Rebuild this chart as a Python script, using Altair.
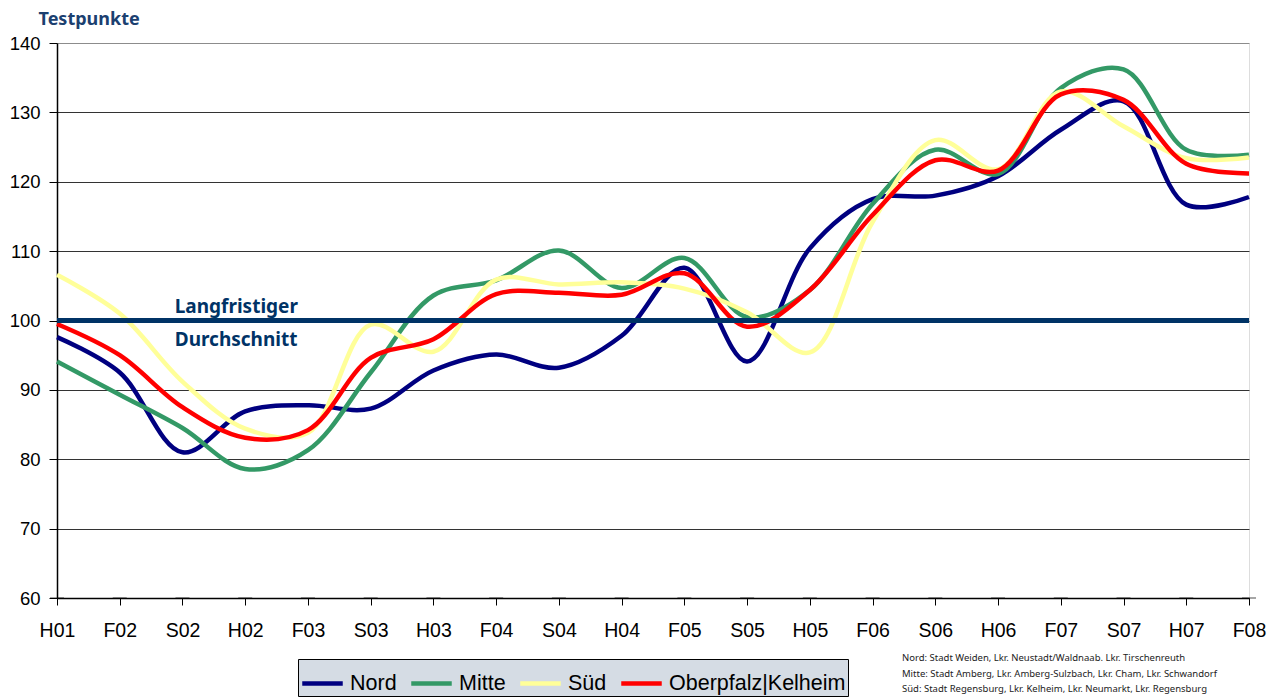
import altair as alt
import pandas as pd

cats = ["H01", "F02", "S02", "H02", "F03", "S03", "H03", "F04", "S04", "H04",
        "F05", "S05", "H05", "F06", "S06", "H06", "F07", "S07", "H07", "F08"]
nord = [97.6, 92.5, 81.0, 86.9, 87.8, 87.3, 92.8, 95.1, 93.2, 97.8,
        107.6, 94.1, 110.4, 117.5, 118.0, 120.8, 127.5, 131.6, 116.7, 117.8]
mitte = [94.1, 89.3, 84.5, 78.6, 81.3, 92.5, 103.6, 105.8, 110.1, 104.7,
         109.0, 100.5, 104.4, 116.8, 124.6, 121.1, 133.5, 136.2, 124.6, 123.9]
sued = [106.6, 101.0, 91.2, 84.4, 83.8, 99.4, 95.5, 105.9, 105.2, 105.5,
        104.6, 101.2, 95.4, 114.2, 126.0, 121.8, 133.0, 128.0, 123.4, 123.5]
ober = [99.5, 95.0, 87.5, 83.1, 84.2, 94.6, 97.3, 103.8, 104.0, 103.7,
        106.8, 99.1, 104.4, 115.2, 123.1, 121.6, 132.6, 131.8, 122.6, 121.2]

series_names = ["Nord", "Mitte", "Süd", "Oberpfalz|Kelheim"]
series_colors = ["#000080", "#339966", "#ffff99", "#ff0000"]
average_value = 100
average_label = ["Langfristiger", "Durchschnitt"]
footnote = [
    "Nord: Stadt Weiden, Lkr. Neustadt/Waldnaab. Lkr. Tirschenreuth",
    "Mitte: Stadt Amberg, Lkr. Amberg-Sulzbach, Lkr. Cham, Lkr. Schwandorf",
    "Süd: Stadt Regensburg, Lkr. Kelheim, Lkr. Neumarkt, Lkr. Regensburg",
]

rows = []
for name, vals in zip(series_names, [nord, mitte, sued, ober]):
    for c, v in zip(cats, vals):
        rows.append({"Periode": c, "Wert": v, "Region": name})
df = pd.DataFrame(rows)
one = pd.DataFrame({"k": [0]})
cat_df = pd.DataFrame({"Periode": cats})

SANS = "Liberation Sans"
NAVY = "#003366"
x_scale = alt.Scale(type="point", domain=cats, padding=0)

x_enc = alt.X(
    "Periode:O", sort=cats, scale=x_scale,
    axis=alt.Axis(title=None, labelFont=SANS, labelFontSize=19.5, labelColor="black",
                  labelAngle=0, labelPadding=16, tickColor="black", tickSize=7,
                  domainColor="black", domainWidth=1.5, grid=False),
)
y_enc = alt.Y(
    "Wert:Q",
    scale=alt.Scale(domain=[60, 140], nice=False, zero=False),
    axis=alt.Axis(
        values=[60, 70, 80, 90, 100, 110, 120, 130, 140],
        title="Testpunkte", titleAngle=0, titleAlign="left", titleBaseline="top",
        titleX=-19, titleY=-33, titleFont="Noto Sans", titleFontSize=18,
        titleFontWeight="bold", titleColor="#1b4070",
        labelFont=SANS, labelFontSize=18.5, labelColor="black", labelPadding=9,
        tickColor="black", tickSize=8, domainColor="black", domainWidth=1.5,
        grid=True,
        gridColor={"condition": {"test": "datum.value == 140", "value": "#8c8c8c"},
                   "value": "#333333"},
        gridWidth=1,
    ),
)

lines = alt.Chart(df).mark_line(interpolate="catmull-rom", strokeWidth=4.5).encode(
    x=x_enc,
    y=y_enc,
    color=alt.Color(
        "Region:N",
        scale=alt.Scale(domain=series_names, range=series_colors),
        legend=alt.Legend(
            orient="none", legendX=241, legendY=616, direction="horizontal", title=None,
            symbolType="stroke", symbolStrokeWidth=4.5, symbolSize=1640,
            labelFont=SANS, labelFontSize=21.5, labelColor="black", labelLimit=400,
            labelOffset=5, columnPadding=5, fillColor="#d5dce4", strokeColor="black",
            padding=2,
        ),
    ),
)

inner_ticks = alt.Chart(cat_df).mark_tick(color="black", thickness=1, size=14).encode(
    x=alt.X("Periode:O", sort=cats, scale=x_scale), y=alt.YDatum(60)
)

avg = alt.Chart(one).mark_rule(color=NAVY, strokeWidth=5).encode(
    y=alt.YDatum(average_value)
)

lab1 = alt.Chart(one).mark_text(
    text=average_label[0], align="left", baseline="alphabetic", dx=55, dy=-8,
    font="Noto Sans", fontSize=19, fontWeight="bold", color=NAVY,
).encode(x=alt.XDatum(cats[1], type="ordinal"), y=alt.YDatum(average_value))

lab2 = alt.Chart(one).mark_text(
    text=average_label[1], align="left", baseline="alphabetic", dx=55, dy=25,
    font="Noto Sans", fontSize=19, fontWeight="bold", color=NAVY,
).encode(x=alt.XDatum(cats[1], type="ordinal"), y=alt.YDatum(average_value))

notes = []
for i, line in enumerate(footnote):
    notes.append(
        alt.Chart(one).mark_text(
            text=line, align="left", baseline="alphabetic",
            font="Noto Sans", fontSize=9.5, color="#222222",
        ).encode(x=alt.value(845), y=alt.value(618 + 15.5 * i))
    )

chart = alt.layer(lines, inner_ticks, avg, lab1, lab2, *notes).properties(
    width=1192, height=555,
    autosize=alt.AutoSizeParams(type="none"),
    padding={"left": 49, "top": 35, "right": 18, "bottom": 99},
).configure_view(
    fill="#d5dce4", stroke="#8c8c8c", strokeWidth=1.5
).configure(background="white")

chart.save("out.html", embed_options={"renderer": "svg", "actions": False})
